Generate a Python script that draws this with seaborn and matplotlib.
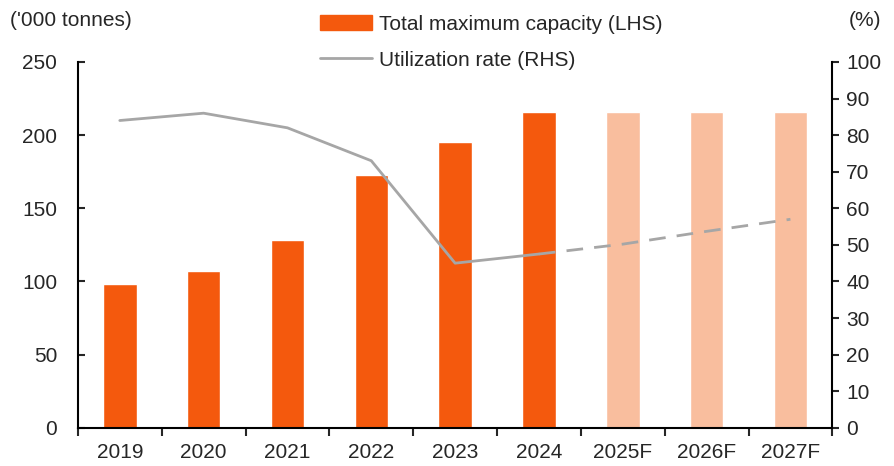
import matplotlib
matplotlib.use('Agg')
import matplotlib.pyplot as plt
import seaborn as sns
import pandas as pd
from matplotlib.lines import Line2D
from matplotlib.patches import Patch

years = ['2019', '2020', '2021', '2022', '2023', '2024', '2025F', '2026F', '2027F']
capacity = [98, 107, 128, 173, 195.5, 216, 216, 216, 216]
utilization = [84, 86, 82, 73, 45, 47.5, 50.2, 53.7, 57]
forecast = [False, False, False, False, False, False, True, True, True]

ORANGE = '#F4590D'
LIGHT = '#F9BE9E'
GREY = '#A6A6A6'

sns.set_style('white')
plt.rcParams['font.family'] = ['Liberation Sans', 'DejaVu Sans']
plt.rcParams['font.size'] = 15

df = pd.DataFrame({'year': years, 'capacity': capacity,
                   'util': utilization, 'fc': forecast})

fig = plt.figure(figsize=(8.95, 4.66), dpi=100)
ax = fig.add_axes([0.087, 0.082, 0.843, 0.785])
colors = [LIGHT if f else ORANGE for f in forecast]
sns.barplot(data=df, x='year', y='capacity', hue='year', palette=colors,
            width=0.4, legend=False, ax=ax, saturation=1)
ax.set_ylim(0, 250)
ax.set_xlim(-0.5, len(years) - 0.5)
ax.set_yticks(range(0, 251, 50))
ax.set_xlabel('')
ax.set_ylabel('')

ax2 = ax.twinx()
x = list(range(len(years)))
last_actual = forecast.index(True) - 1
# actuals solid, forecasts dashed
sns.lineplot(x=x[:last_actual + 1], y=utilization[:last_actual + 1], color=GREY,
             lw=2, ax=ax2)
sns.lineplot(x=x[last_actual:], y=utilization[last_actual:], color=GREY,
             lw=2, ax=ax2, linestyle=(0, (6, 4)))
ax2.set_ylim(0, 100)
ax2.set_yticks(range(0, 101, 10))

for a in (ax, ax2):
    for s in a.spines.values():
        s.set_visible(False)
ax.spines['left'].set_visible(True)
ax.spines['bottom'].set_visible(True)
ax2.spines['right'].set_visible(True)
for s in ('left', 'bottom'):
    ax.spines[s].set_color('black')
    ax.spines[s].set_linewidth(1.5)
ax2.spines['right'].set_color('black')
ax2.spines['right'].set_linewidth(1.5)

ax.tick_params(axis='y', direction='in', length=5, width=1.5, left=True, pad=15)
ax.set_xticks([i - 0.5 for i in range(len(years) + 1)], minor=True)
ax.tick_params(axis='x', which='major', length=0, pad=11)
ax.tick_params(axis='x', which='minor', direction='out', length=6, width=1.5, bottom=True)
ax2.tick_params(axis='y', direction='out', length=5, width=1.5, right=True, pad=5)

fig.text(0.011, 0.955, "('000 tonnes)", fontsize=15, va='center')
fig.text(0.948, 0.955, '(%)', fontsize=15, va='center')

handles = [Patch(color=ORANGE), Line2D([0], [0], color=GREY, lw=2)]
fig.legend(handles, ['Total maximum capacity (LHS)', 'Utilization rate (RHS)'],
           loc='upper left', bbox_to_anchor=(0.337, 1.008), frameon=False,
           fontsize=15, handlelength=2.5, handletextpad=0.3, labelspacing=0.8)

fig.savefig('out.png', dpi=100)
